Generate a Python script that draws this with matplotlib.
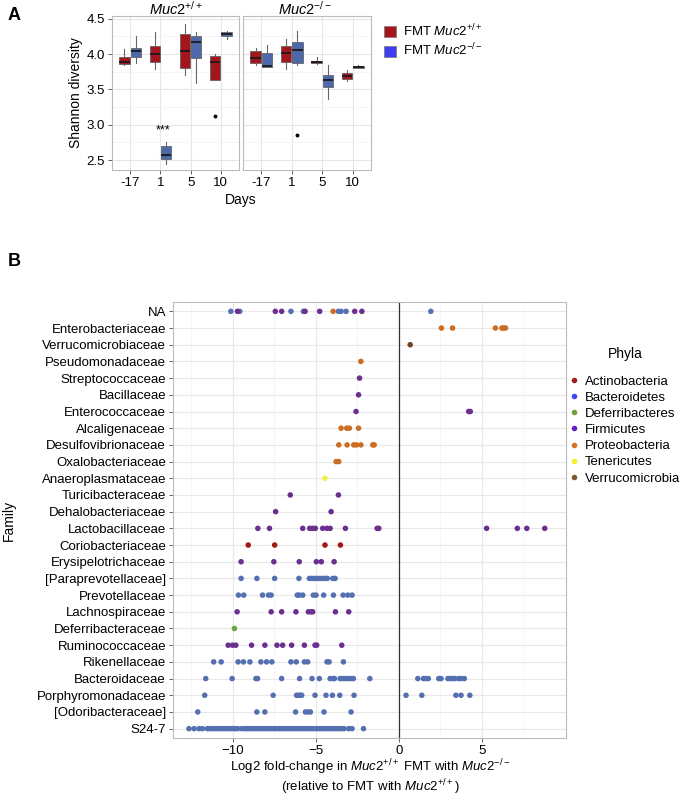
import matplotlib
matplotlib.use("Agg")
import matplotlib.pyplot as plt
from matplotlib.patches import Patch
from matplotlib.lines import Line2D

plt.rcParams['font.family'] = ['Liberation Sans', 'DejaVu Sans']
plt.rcParams['mathtext.fontset'] = 'custom'
plt.rcParams['mathtext.rm'] = 'Liberation Sans'
plt.rcParams['mathtext.it'] = 'Liberation Sans:italic'

W, H = 687, 797

# ---------------- Panel A data (box stats: whislo, q1, med, q3, whishi) ----------------
days = ['-17', '1', '5', '10']
wt_fmt_wt = [(3.84, 3.86, 3.885, 3.96, 4.07), (3.79, 3.89, 4.00, 4.12, 4.31),
             (3.71, 3.81, 4.05, 4.29, 4.43), (3.63, 3.63, 3.89, 3.975, 4.00)]
wt_fmt_ko = [(3.88, 3.96, 4.04, 4.09, 4.25), (2.45, 2.51, 2.57, 2.70, 2.75),
             (3.59, 3.95, 4.17, 4.25, 4.31), (4.21, 4.26, 4.29, 4.32, 4.33)]
ko_fmt_wt = [(3.84, 3.88, 3.94, 4.05, 4.08), (3.79, 3.89, 4.02, 4.12, 4.21),
             (3.86, 3.88, 3.89, 3.91, 3.96), (3.62, 3.65, 3.69, 3.73, 3.77)]
ko_fmt_ko = [(3.82, 3.82, 3.83, 4.02, 4.13), (3.84, 3.87, 4.06, 4.17, 4.33),
             (3.36, 3.54, 3.63, 3.71, 3.84), (3.80, 3.81, 3.82, 3.83, 3.84)]
wt_fmt_wt_out = [[], [], [], [3.12]]
ko_fmt_ko_out = [[], [2.86], [], []]

# ---------------- Panel B data ----------------
families = ['NA', 'Enterobacteriaceae', 'Verrucomicrobiaceae', 'Pseudomonadaceae',
            'Streptococcaceae', 'Bacillaceae', 'Enterococcaceae', 'Alcaligenaceae',
            'Desulfovibrionaceae', 'Oxalobacteriaceae', 'Anaeroplasmataceae',
            'Turicibacteraceae', 'Dehalobacteriaceae', 'Lactobacillaceae',
            'Coriobacteriaceae', 'Erysipelotrichaceae', '[Paraprevotellaceae]',
            'Prevotellaceae', 'Lachnospiraceae', 'Deferribacteraceae',
            'Ruminococcaceae', 'Rikenellaceae', 'Bacteroidaceae',
            'Porphyromonadaceae', '[Odoribacteraceae]', 'S24-7']

lfc_na = {'Bacteroidetes': [-10.12, -9.58, -6.5, -5.75, -3.64, -3.48, -3.18, 1.92],
          'Firmicutes': [-9.72, -7.44, -7.06, -5.65, -4.77, -2.66, -2.23],
          'Proteobacteria': [-3.96]}
lfc_entero = {'Proteobacteria': [2.56, 3.23, 5.81, 6.2, 6.3, 6.42]}
lfc_verruco = {'Verrucomicrobia': [0.68]}
lfc_pseudo = {'Proteobacteria': [-2.29]}
lfc_strep = {'Firmicutes': [-2.37]}
lfc_bacill = {'Firmicutes': [-2.43]}
lfc_enteroc = {'Firmicutes': [-2.58, 4.2, 4.3]}
lfc_alcalig = {'Proteobacteria': [-3.48, -3.14, -2.98, -2.43]}
lfc_desulfo = {'Proteobacteria': [-3.62, -3.12, -2.72, -2.56, -2.29, -1.57, -1.49]}
lfc_oxalo = {'Proteobacteria': [-3.78, -3.62]}
lfc_anaero = {'Tenericutes': [-4.45]}
lfc_turici = {'Firmicutes': [-6.54, -3.64]}
lfc_dehalo = {'Firmicutes': [-7.42, -4.08]}
lfc_lacto = {'Firmicutes': [-8.49, -7.79, -5.79, -5.37, -5.19, -5.03, -4.59, -4.33,
                            -4.14, -3.22, -1.31, -1.21, 5.28, 7.13, 7.7, 8.78]}
lfc_corio = {'Actinobacteria': [-9.07, -7.48, -4.45, -3.52]}
lfc_erysip = {'Firmicutes': [-9.5, -7.53, -6.0, -4.97, -4.67, -3.9]}
lfc_parapre = {'Bacteroidetes': [-9.5, -8.55, -7.48, -6.02, -5.39, -5.23, -5.07, -4.91,
                                 -4.75, -4.59, -4.43, -4.31, -3.98, -3.84]}
lfc_prevo = {'Bacteroidetes': [-9.66, -9.34, -8.21, -7.85, -7.69, -6.12, -6.0, -5.79,
                               -5.15, -4.99, -4.53, -3.94, -3.36, -3.08, -2.82]}
lfc_lachno = {'Firmicutes': [-9.74, -7.69, -7.06, -6.2, -5.45, -5.29, -5.19, -3.82, -3.02]}
lfc_deferri = {'Deferribacteres': [-9.9]}
lfc_rumino = {'Firmicutes': [-10.28, -10.02, -9.82, -8.87, -8.07, -7.34, -7.0, -6.46,
                             -5.69, -5.05, -4.95, -3.44]}
lfc_rikenell = {'Bacteroidetes': [-11.15, -10.7, -9.68, -9.36, -8.97, -8.31, -7.97, -7.65,
                                  -6.5, -6.18, -5.69, -5.49, -4.33, -4.2, -3.34]}
lfc_bacteroid = {'Bacteroidetes': [-11.63, -10.04, -8.61, -8.51, -7.06, -5.98, -5.23, -4.79,
                                   -4.14, -3.98, -3.88, -3.54, -3.38, -3.24, -3.08, -2.92,
                                   -2.74, -1.75, 1.14, 1.48, 1.61, 1.77, 2.4, 2.54, 2.95,
                                   3.09, 3.23, 3.35, 3.58, 3.74, 3.94]}
lfc_porphyro = {'Bacteroidetes': [-11.69, -7.57, -6.16, -6.04, -5.93, -5.85, -5.05, -4.39,
                                  -4.0, -3.56, -2.7, 0.43, 1.38, 3.43, 3.74, 4.27]}
lfc_odori = {'Bacteroidetes': [-12.11, -8.55, -8.07, -6.22, -5.63, -5.49, -5.33, -4.51, -2.88]}
lfc_s24 = {'Bacteroidetes': [-12.64, -12.33, -12.03, -11.83, -11.53, -11.38, -11.22, -11.05,
                             -10.9, -10.74, -10.6, -10.45, -10.3, -10.15, -10.0, -9.85, -9.7,
                             -9.46, -9.3, -9.15, -9.0, -8.85, -8.7, -8.55, -8.4, -8.25, -8.1,
                             -7.95, -7.8, -7.65, -7.5, -7.35, -7.2, -7.05, -6.9, -6.75, -6.6,
                             -6.45, -6.3, -6.15, -6.0, -5.85, -5.7, -5.55, -5.4, -5.25, -5.1,
                             -4.95, -4.8, -4.65, -4.5, -4.35, -4.2, -4.05, -3.9, -3.75, -3.6,
                             -3.45, -3.3, -3.02, -2.82, -2.13]}
lfc_all = [lfc_na, lfc_entero, lfc_verruco, lfc_pseudo, lfc_strep, lfc_bacill, lfc_enteroc,
           lfc_alcalig, lfc_desulfo, lfc_oxalo, lfc_anaero, lfc_turici, lfc_dehalo, lfc_lacto,
           lfc_corio, lfc_erysip, lfc_parapre, lfc_prevo, lfc_lachno, lfc_deferri, lfc_rumino,
           lfc_rikenell, lfc_bacteroid, lfc_porphyro, lfc_odori, lfc_s24]

phyla = ['Actinobacteria', 'Bacteroidetes', 'Deferribacteres', 'Firmicutes',
         'Proteobacteria', 'Tenericutes', 'Verrucomicrobia']
dot_colors = ['#A01818', '#5470B0', '#6BA645', '#6A2F8F', '#CB6D22', '#F2EE3A', '#6E4423']
legend_colors = ['#A51C1C', '#3F45F2', '#6E9E3E', '#6A1FC4', '#D2722A', '#F5F030', '#7A5A2A']

RED, BLUE = '#A3161D', '#4E68AC'


def rect(x0, y0, x1, y1):
    return [x0 / W, 1 - y1 / H, (x1 - x0) / W, (y1 - y0) / H]


fig = plt.figure(figsize=(W / 100, H / 100), dpi=100)


def style_axes(ax):
    for s in ax.spines.values():
        s.set_color('#BBBBBB')
        s.set_linewidth(0.8)
    ax.tick_params(length=3, width=0.6, color='#444444', labelsize=9.5, pad=2)
    ax.set_axisbelow(True)


def box(ax, stats, pos, color, fliers):
    d = [dict(whislo=s[0], q1=s[1], med=s[2], q3=s[3], whishi=s[4], fliers=f)
         for s, f in zip(stats, fliers)]
    ax.bxp(d, positions=pos, widths=0.34, patch_artist=True, manage_ticks=False,
           boxprops=dict(facecolor=color, edgecolor='#555555', linewidth=0.5),
           medianprops=dict(color='#1A1A1A', linewidth=1.3),
           whiskerprops=dict(color='#666666', linewidth=0.8),
           capprops=dict(linewidth=0), capwidths=0,
           flierprops=dict(marker='o', markersize=1.8, markerfacecolor='black',
                           markeredgecolor='black'))


# ---------------- Panel A ----------------
axL = fig.add_axes(rect(112, 16, 239, 170))
axR = fig.add_axes(rect(243, 16, 371, 170))
pos = [1, 2, 3, 4]
for ax, red_s, blue_s, red_o, blue_o in [
        (axL, wt_fmt_wt, wt_fmt_ko, wt_fmt_wt_out, [[]] * 4),
        (axR, ko_fmt_wt, ko_fmt_ko, [[]] * 4, ko_fmt_ko_out)]:
    box(ax, red_s, [p - 0.1875 for p in pos], RED, red_o)
    box(ax, blue_s, [p + 0.1875 for p in pos], BLUE, blue_o)
    ax.set_xlim(0.4, 4.6)
    ax.set_ylim(2.36, 4.54)
    ax.set_xticks(pos)
    ax.set_xticklabels(days)
    ax.set_yticks([2.5, 3.0, 3.5, 4.0, 4.5])
    ax.set_yticks([2.75, 3.25, 3.75, 4.25], minor=True)
    ax.tick_params(which='minor', length=0)
    ax.grid(True, which='major', color='#E6E6E6', linewidth=0.8)
    ax.grid(True, which='minor', color='#F2F2F2', linewidth=0.5)
    style_axes(ax)
axR.set_yticklabels([])
axR.tick_params(axis='y', length=0)
axL.set_ylabel('Shannon diversity', fontsize=10, labelpad=3)
axL.text(2.1, 2.92, '***', ha='center', va='center', fontsize=9)
fig.text(176 / W, 1 - 9 / H, r'$\mathit{Muc2}^{+/+}$', ha='center', va='center', fontsize=10.5)
fig.text(305 / W, 1 - 9 / H, r'$\mathit{Muc2}^{-/-}$', ha='center', va='center', fontsize=10.5)
fig.text(241 / W, 1 - 200 / H, 'Days', ha='center', va='center', fontsize=10)

fig.legend(handles=[Patch(facecolor=RED, edgecolor='#777777', linewidth=0.5),
                    Patch(facecolor='#3F3FF0', edgecolor='#777777', linewidth=0.5)],
           labels=[r'FMT $\mathit{Muc2}^{+/+}$', r'FMT $\mathit{Muc2}^{-/-}$'],
           loc='upper left', bbox_to_anchor=(379 / W, 1 - 17 / H), frameon=False,
           fontsize=9.5, handlelength=0.9, handleheight=0.9, handletextpad=0.5,
           labelspacing=0.25, borderaxespad=0)

fig.text(8 / W, 1 - 15 / H, 'A', fontsize=13, fontweight='bold', va='center')
fig.text(8 / W, 1 - 262 / H, 'B', fontsize=13, fontweight='bold', va='center')

# ---------------- Panel B ----------------
axB = fig.add_axes(rect(173, 302, 566, 738))
for i, fam in enumerate(lfc_all):
    for ph, vals in fam.items():
        c = dot_colors[phyla.index(ph)]
        axB.scatter(vals, [i] * len(vals), s=16, color=c, edgecolors='none', zorder=3)
axB.axvline(0, color='#333333', linewidth=0.9, zorder=2)
axB.set_xlim(-13.6, 10.06)
axB.set_ylim(len(families) - 0.44, -0.56)
axB.set_yticks(range(len(families)))
axB.set_yticklabels(families)
axB.set_xticks([-10, -5, 0, 5])
axB.set_xticks([-12.5, -7.5, -2.5, 2.5, 7.5], minor=True)
axB.tick_params(which='minor', length=0)
axB.grid(True, which='major', color='#E8E8E8', linewidth=0.8)
axB.grid(True, which='minor', axis='x', color='#F3F3F3', linewidth=0.5)
style_axes(axB)
axB.tick_params(axis='y', labelsize=9.5)
fig.text(9 / W, 1 - 520 / H, 'Family', rotation=90, ha='center', va='center', fontsize=10)
fig.text(370 / W, 1 - 777 / H,
         'Log2 fold-change in $\\mathit{Muc2}^{+/+}$ FMT with $\\mathit{Muc2}^{-/-}$\n'
         '(relative to FMT with $\\mathit{Muc2}^{+/+}$)', ha='center', va='center',
         fontsize=9.5, linespacing=1.0, multialignment='center')

fig.text(625 / W, 1 - 354 / H, 'Phyla', ha='center', va='center', fontsize=10)
ph_handles = [Line2D([], [], marker='o', linestyle='none', markersize=4,
                     markerfacecolor=c, markeredgecolor='none') for c in legend_colors]
fig.legend(handles=ph_handles, labels=phyla, loc='upper left',
           bbox_to_anchor=(565 / W, 1 - 370 / H), frameon=False, fontsize=9.5,
           handlelength=0.6, handletextpad=0.5, labelspacing=0.3, borderaxespad=0)

fig.savefig('out.png', dpi=100)
